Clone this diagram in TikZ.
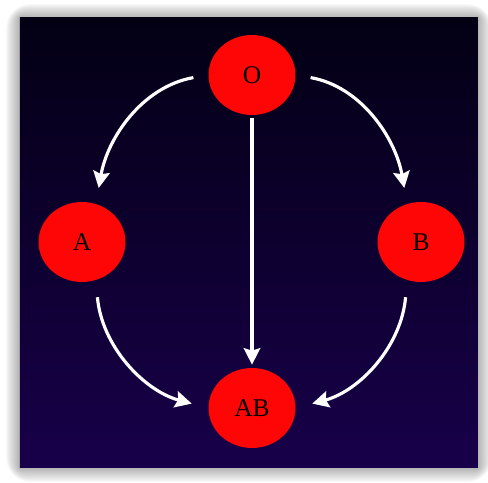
\documentclass[tikz,border=0pt]{standalone}
\usepackage{fontspec}
\setmainfont{Liberation Serif}
\usetikzlibrary{shapes.geometric,arrows.meta}
\definecolor{paneltop}{RGB}{3,0,20}
\definecolor{panelmid}{RGB}{20,0,64}
\definecolor{panelbot}{RGB}{24,0,74}
\definecolor{bloodred}{RGB}{255,6,6}

\begin{document}
\begin{tikzpicture}[
  x=0.02cm, y=-0.02cm,
  group/.style={ellipse, fill=bloodred, minimum width=1.74cm, minimum height=1.6cm,
                inner sep=0pt, text=black, font=\fontsize{14.5}{17}\selectfont},
  arrow/.style={-{Stealth[length=0.33cm,width=0.33cm,inset=0.05cm]}, white, line width=1.8pt}
]
  \useasboundingbox (0,0) rectangle (488,483);
  % soft shadow round the panel
  \foreach \i in {1,...,14}
    \fill[black, opacity=0.025, rounded corners=\i] (20-\i,18-\i) rectangle (478+\i,468+\i);
  \shade[top color=paneltop, middle color=panelmid, bottom color=panelbot] (20,18) rectangle (478,468);

  \node[group] (O)  at (252,75)  {O};
  \node[group] (A)  at (82,242)  {A};
  \node[group] (B)  at (421,242) {B};
  \node[group] (AB) at (252,408) {AB};

  \draw[arrow, shorten <=0.3cm, shorten >=0.32cm] (O.west) to[out=190, in=80] (A.70);
  \draw[arrow, shorten <=0.3cm, shorten >=0.32cm] (O.east) to[out=-10, in=100] (B.110);
  \draw[arrow, shorten <=0.06cm, shorten >=0.06cm] (O) -- (AB);
  \draw[arrow, shorten <=0.34cm, shorten >=0.34cm] (A.-70) to[out=-85, in=165] (AB.west);
  \draw[arrow, shorten <=0.34cm, shorten >=0.34cm] (B.-110) to[out=-95, in=15] (AB.east);
\end{tikzpicture}
\end{document}
